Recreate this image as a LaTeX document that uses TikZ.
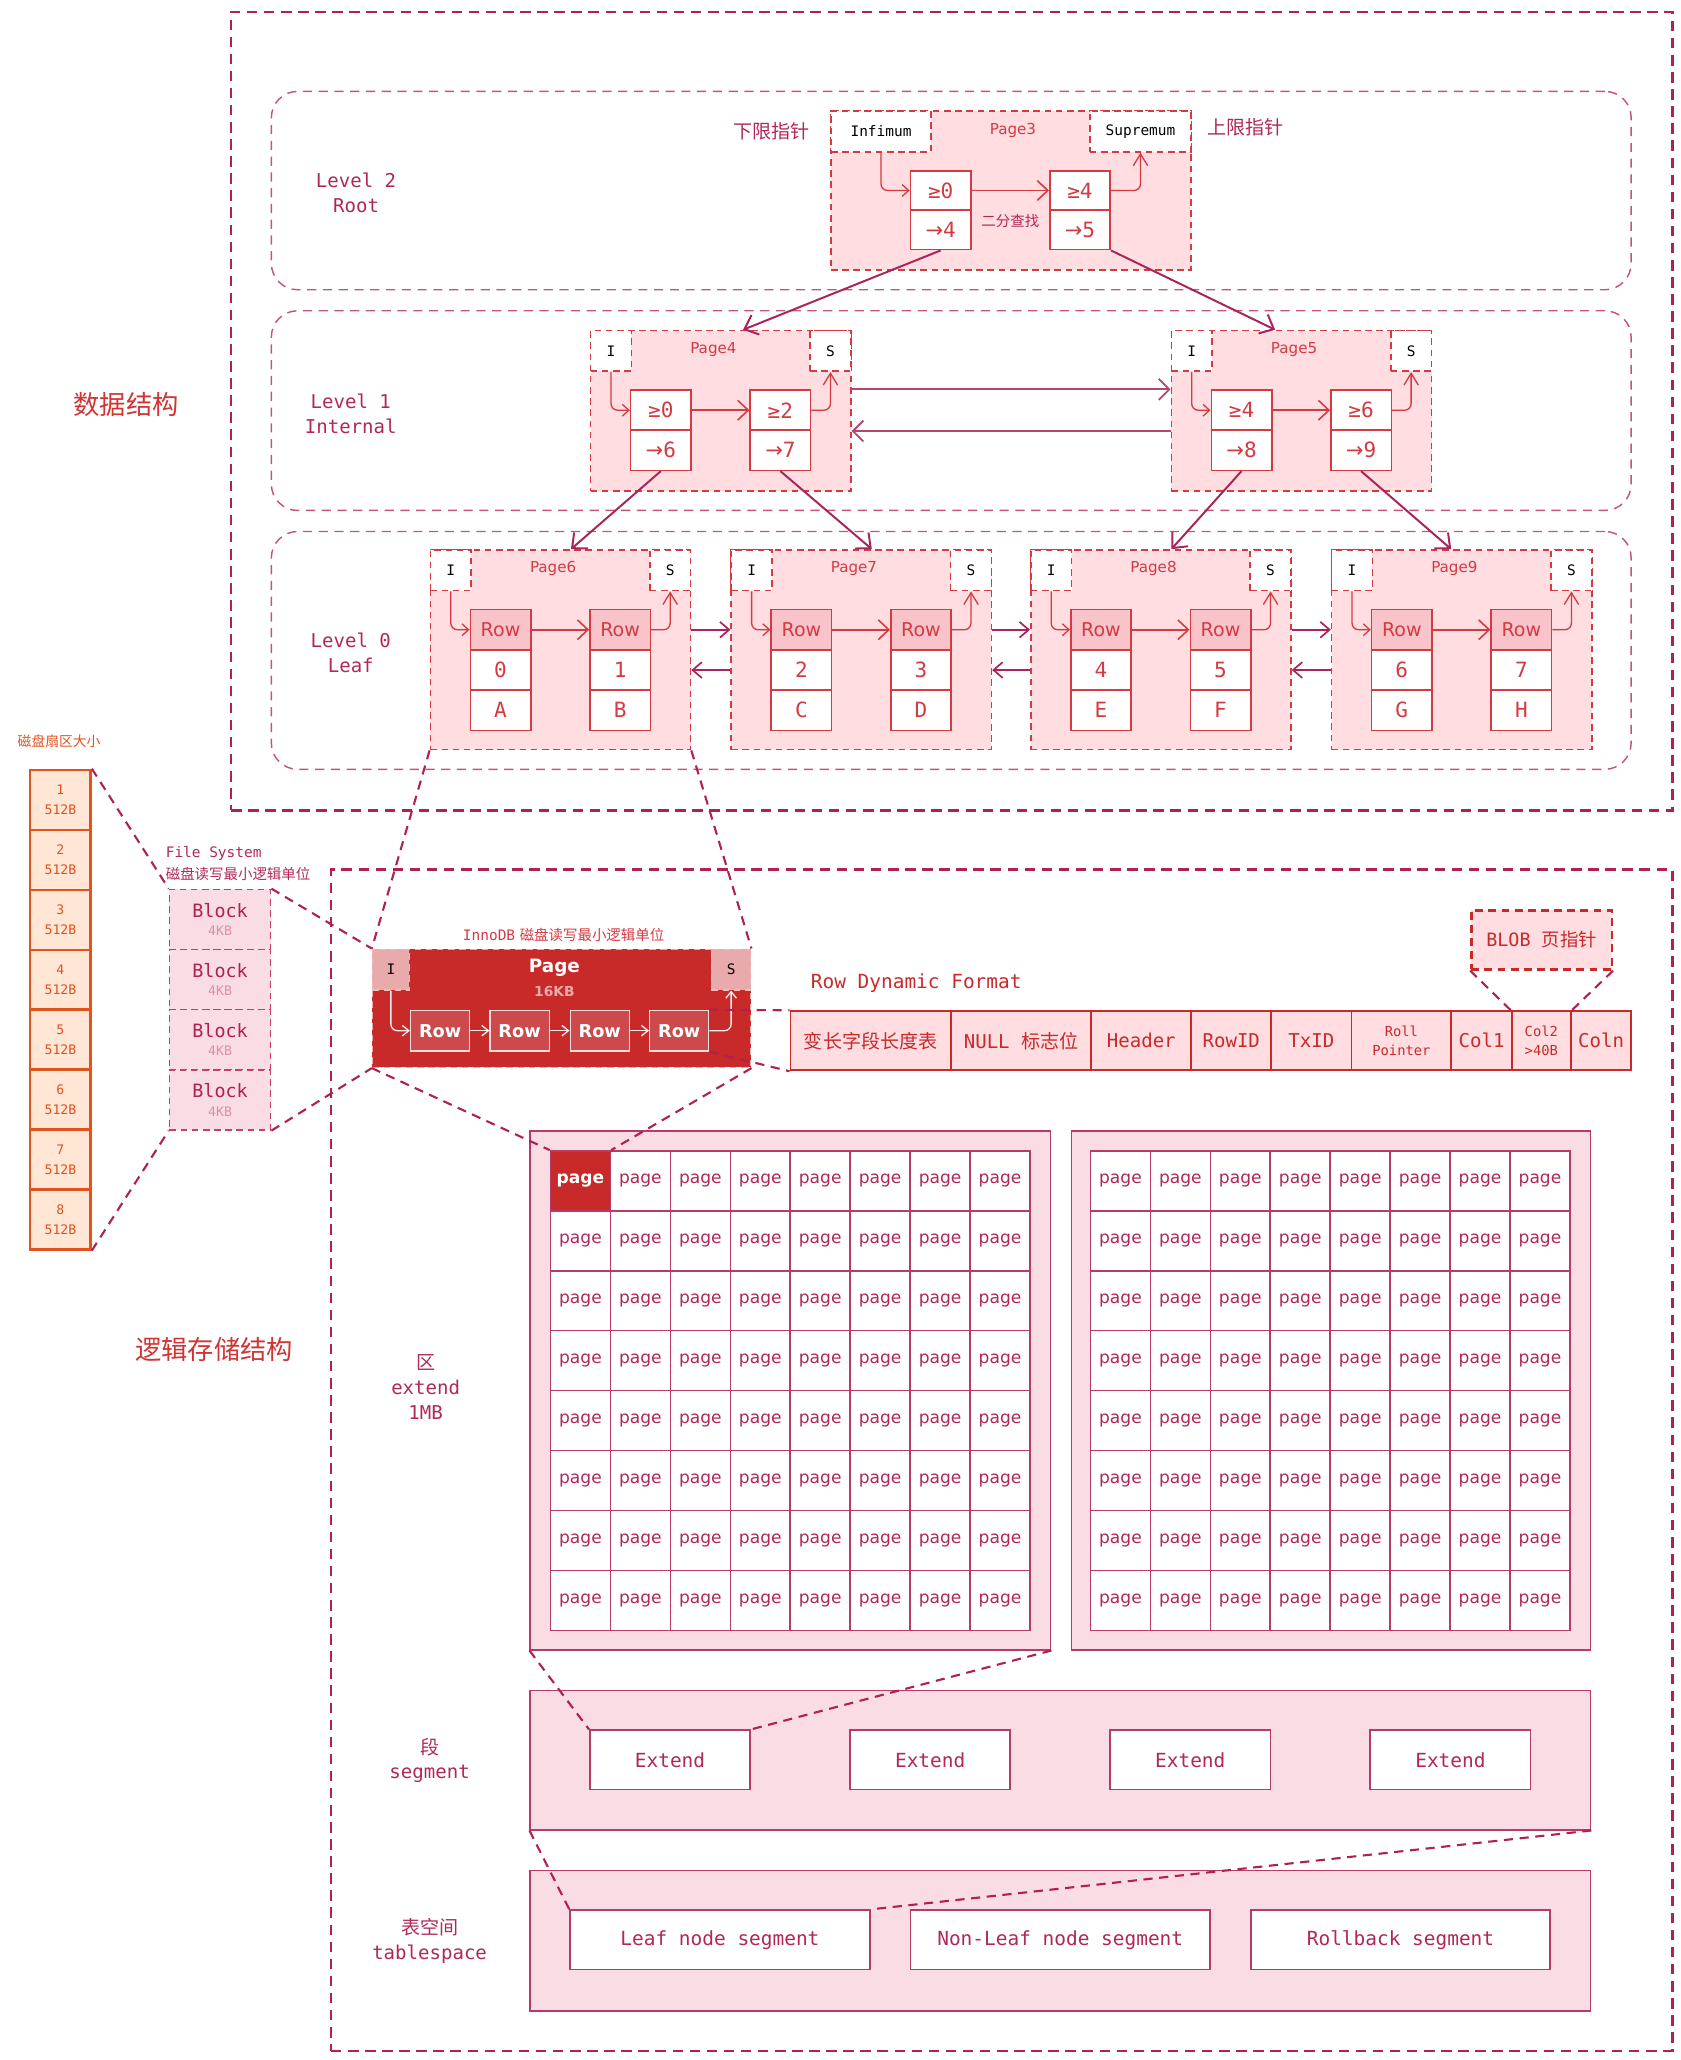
\documentclass[tikz,border=0pt]{standalone}
\usepackage{fontspec}
\setmainfont{DejaVu Sans}
\setmonofont{DejaVu Sans Mono}
\newfontfamily\cjk{Noto Sans CJK SC}
\newfontfamily\arrf{DejaVu Sans}
\usetikzlibrary{arrows.meta,calc}
\definecolor{cdark}{RGB}{176,32,80}
\definecolor{clevel}{RGB}{196,84,120}
\definecolor{cred}{RGB}{212,58,66}
\definecolor{cpagefill}{RGB}{255,221,224}
\definecolor{crowfill}{RGB}{248,196,202}
\definecolor{cextfill}{RGB}{250,220,229}
\definecolor{cextdraw}{RGB}{184,58,104}
\definecolor{ctxt}{RGB}{176,40,90}
\definecolor{corange}{RGB}{224,82,30}
\definecolor{corfill}{RGB}{255,230,213}
\definecolor{cinno}{RGB}{200,42,42}
\definecolor{cinnorow}{RGB}{204,74,76}
\definecolor{cinnois}{RGB}{232,170,170}
\definecolor{carrow}{RGB}{168,36,90}
\definecolor{cbig}{RGB}{208,52,52}
\definecolor{cblkdraw}{RGB}{192,64,112}
\definecolor{cblk4}{RGB}{216,144,168}
\newcommand\fz[2]{\fontsize{#1}{#2}\selectfont}
\newcommand\ar{{\arrf →}}

\newcommand\leafpg[7]{%
\begin{scope}[xshift=#2pt]
\node[pagebox, minimum width=198pt, minimum height=152pt] (#1) at (0,418) {};
\node[isbox] (#1i) at (0,418) {I};
\node[isbox] (#1s) at (167,418) {S};
\node[pagelbl] (#1t) at (94,433) {#3};
\node[rowcell] (#1r1) at (54,479.33) {Row};
\node[valcell] (#1a1) at (54,510) {#4};
\node[valcell] (#1b1) at (54,540.67) {#5};
\node[rowcell] (#1r2) at (145,479.33) {Row};
\node[valcell] (#1a2) at (145,510) {#6};
\node[valcell] (#1b2) at (145,540.67) {#7};
\draw[inarr, rounded corners=5pt] (#1i.south) |- (#1r1.west);
\draw[bigarr] (#1r1.east) -- (#1r2.west);
\draw[inarr2, rounded corners=5pt] (#1r2.east) -| (#1s.south);
\end{scope}}

\newcommand\intpg[7]{%
\begin{scope}[xshift=#2pt]
\node[pagebox, minimum width=198pt, minimum height=122pt] (#1) at (0,251) {};
\node[isbox] (#1i) at (0,251) {I};
\node[isbox] (#1s) at (167,251) {S};
\node[pagelbl] (#1t) at (94,266) {#3};
\node[keycell] (#1k1) at (54,312.25) {#4};
\node[keycell] (#1v1) at (54,342.75) {#5};
\node[keycell] (#1k2) at (145,312.25) {#6};
\node[keycell] (#1v2) at (145,342.75) {#7};
\draw[inarr, rounded corners=5pt] (#1i.south) |- (#1k1.west);
\draw[bigarr] (#1k1.east) -- (#1k2.west);
\draw[inarr2, rounded corners=5pt] (#1k2.east) -| (#1s.south);
\end{scope}}

\begin{document}
\begin{tikzpicture}[x=1pt,y=-1pt,
 outerbox/.style={draw=cdark, dash pattern=on 8pt off 5pt, line width=1.8pt, inner sep=0, anchor=north west},
 levelbox/.style={draw=clevel, dash pattern=on 7pt off 5pt, line width=1.1pt, rounded corners=20pt, inner sep=0, anchor=north west},
 pagebox/.style={draw=cred, fill=cpagefill, dash pattern=on 5pt off 3.5pt, line width=1.2pt, inner sep=0, anchor=north west},
 isbox/.style={draw=cred, fill=white, dash pattern=on 5pt off 3.5pt, line width=1.2pt, inner sep=0, anchor=north west, minimum width=31pt, minimum height=31pt, font=\ttfamily\fz{11}{13}, text=black},
 pagelbl/.style={text=cred, font=\fz{11.5}{13}, inner sep=0},
 keycell/.style={draw=cred, fill=white, line width=1.2pt, inner sep=0, minimum width=46pt, minimum height=30.5pt, text=cred, font=\ttfamily\fz{16}{18}},
 rowcell/.style={keycell, fill=crowfill, font=\fz{14.5}{16}, minimum height=30.67pt},
 valcell/.style={keycell, minimum height=30.67pt},
 inarr/.style={draw=cred, line width=1pt, -{Straight Barb[length=5pt,width=9pt]}},
 inarr2/.style={draw=cred, line width=1pt, -{Straight Barb[length=9pt,width=11pt]}},
 bigarr/.style={draw=cred, line width=1.2pt, -{Straight Barb[length=8pt,width=15pt]}},
 tarr/.style={draw=carrow, line width=1.5pt, -{Straight Barb[length=9pt,width=16pt]}},
 harr/.style={draw=carrow!85, line width=1.4pt, -{Straight Barb[length=8pt,width=16pt]}},
 larr/.style={draw=carrow, line width=1.3pt, -{Straight Barb[length=7pt,width=12pt]}},
 lvl/.style={text=ctxt, font=\ttfamily\fz{14.5}{19}, align=center, inner sep=0},
 big/.style={text=cbig, font=\cjk\fz{20}{24}, inner sep=0},
 note/.style={text=ctxt, font=\cjk\fz{14.5}{16}, inner sep=0},
 conn/.style={draw=cdark, dash pattern=on 7pt off 5pt, line width=1.6pt},
 sector/.style={draw=corange, fill=corfill, line width=1.8pt, minimum width=46pt, minimum height=45.625pt, inner sep=0, align=center, text=corange, font=\ttfamily\fz{10}{15}},
 blk/.style={draw=cblkdraw, fill=cextfill, dash pattern=on 5pt off 3.5pt, line width=1.2pt, minimum width=77pt, minimum height=45.75pt, inner sep=0, align=center, text=cdark, font=\ttfamily\fz{14}{17}},
 innois/.style={draw=cinnois!80!white, fill=cinnois, dash pattern=on 5pt off 3.5pt, line width=1pt, inner sep=0, anchor=north west, minimum height=31pt, text=black, font=\ttfamily\fz{11}{13}},
 innorow/.style={draw=white!85!cinno, fill=cinnorow, line width=1pt, minimum width=45pt, minimum height=31pt, inner sep=0, text=white, font=\bfseries\fz{13.5}{16}},
 warr/.style={draw=white!92!cinno, line width=1pt, -{Straight Barb[length=5pt,width=8pt]}},
 fmt/.style={draw=cinno, fill=cpagefill, line width=1.4pt, minimum height=45pt, inner sep=0, anchor=north west, align=center, text=cinno, font=\ttfamily\fz{14.5}{16}},
 fmts/.style={fmt, font=\ttfamily\fz{10.5}{15}},
 extbox/.style={draw=cextdraw, fill=cextfill, line width=1.3pt, inner sep=0, anchor=north west},
 pgcell/.style={draw=cextdraw, fill=white, line width=1.2pt, minimum size=45.625pt, inner sep=0, text=ctxt, font=\fz{13}{15}},
 pgred/.style={pgcell, fill=cinno, text=white, font=\bfseries\fz{13}{15}},
 segcell/.style={draw=cextdraw, fill=white, line width=1.3pt, minimum height=45pt, inner sep=0, text=ctxt, font=\ttfamily\fz{14.8}{16}}
]
\useasboundingbox (0,0) rectangle (1279,1568);

% ===== top: data structure =====
\node[outerbox, minimum width=1097pt, minimum height=608pt] (TOP) at (175,8) {};
\node[big] (T1) at (96,308) {数据结构};
\node[levelbox, minimum width=1035pt, minimum height=151pt] (L2) at (206,69) {};
\node[levelbox, minimum width=1035pt, minimum height=152pt] (L1) at (206,236) {};
\node[levelbox, minimum width=1035pt, minimum height=181pt] (L0) at (206,404) {};
\node[lvl] (L2t) at (271,147) {Level 2\\Root};
\node[lvl] (L1t) at (267,315) {Level 1\\Internal};
\node[lvl] (L0t) at (267,497) {Level 0\\Leaf};

% Page3
\node[pagebox, minimum width=274pt, minimum height=121pt] (P3) at (632,84) {};
\node[isbox, minimum width=76pt] (P3i) at (632,84) {Infimum};
\node[isbox, minimum width=77pt] (P3s) at (829,84) {Supremum};
\node[pagelbl] (P3t) at (771,99) {Page3};
\node[keycell, minimum height=30pt] (P3k1) at (716,145) {≥0};
\node[keycell, minimum height=30pt] (P3v1) at (716,175) {\ar4};
\node[keycell, minimum height=30pt] (P3k2) at (822,145) {≥4};
\node[keycell, minimum height=30pt] (P3v2) at (822,175) {\ar5};
\node[text=ctxt, font=\cjk\fz{11}{13}, inner sep=0] (BS) at (769,168) {二分查找};
\node[note] (LO) at (587,100) {下限指针};
\node[note] (UP) at (948,97) {上限指针};
\draw[inarr, rounded corners=5pt] (P3i.south) |- (P3k1.west);
\draw[bigarr] (P3k1.east) -- (P3k2.west);
\draw[inarr2, rounded corners=5pt] (P3k2.east) -| (P3s.south);

% Level 1
\intpg{P4}{449}{Page4}{≥0}{\ar6}{≥2}{\ar7}
\intpg{P5}{891}{Page5}{≥4}{\ar8}{≥6}{\ar9}
\draw[harr] (P4.east |- P4k1.north) -- (P5.west |- P4k1.north);
\draw[harr] (P5.west |- P4k1.south) -- (P4.east |- P4k1.south);

% Level 0
\leafpg{P6}{327}{Page6}{0}{A}{1}{B}
\leafpg{P7}{556}{Page7}{2}{C}{3}{D}
\leafpg{P8}{784}{Page8}{4}{E}{5}{F}
\leafpg{P9}{1013}{Page9}{6}{G}{7}{H}
\foreach \a/\b in {P6/P7,P7/P8,P8/P9}{
  \draw[larr] (\a.east |- \a r1.center) -- (\b.west |- \a r1.center);
  \draw[larr] (\b.west |- \a a1.center) -- (\a.east |- \a a1.center);
}

% tree arrows
\draw[tarr] (P3v1.south) -- ([xshift=17pt]P4.north);
\draw[tarr] (P3v2.south east) -- ([xshift=-20pt]P5.north);
\draw[tarr] (P4v1.south) -- ([xshift=8pt]P6.north);
\draw[tarr] (P4v2.south) -- ([xshift=8pt]P7.north);
\draw[tarr] (P5v1.south) -- ([xshift=8pt]P8.north);
\draw[tarr] (P5v2.south) -- ([xshift=-8pt]P9.north);

% ===== bottom: logical storage =====
\node[outerbox, minimum width=1021pt, minimum height=899pt] (BOT) at (251,661) {};
\node[big] (T2) at (163,1027) {逻辑存储结构};

% sectors
\node[text=corange, font=\cjk\fz{10.5}{12}, inner sep=0] (SCt) at (45,564) {磁盘扇区大小};
\foreach \i in {1,...,8}
  \node[sector] (SC\i) at (46,{586+(\i-0.5)*45.625}) {\i\\512B};

% blocks
\node[text=ctxt, font=\ttfamily\fz{11}{13}, inner sep=0, anchor=west] (FS1) at (126,650) {File System};
\node[text=ctxt, font=\cjk\fz{11}{13}, inner sep=0, anchor=west] (FS2) at (126,665) {磁盘读写最小逻辑单位};
\foreach \i in {1,...,4}
  \node[blk] (BK\i) at (167.5,{677+(\i-0.5)*45.75}) {Block\\[-3pt]{\color{cblk4}\fz{10}{12}4KB}};

% InnoDB page
\node[text=cred, font=\fz{11}{13}, inner sep=0] (IPtt) at (429,712) {{\ttfamily InnoDB} {\cjk 磁盘读写最小逻辑单位}};
\node[draw=cinnois, fill=cinno, dash pattern=on 5pt off 3.5pt, line width=1pt, inner sep=0, anchor=north west, minimum width=288pt, minimum height=90pt] (IP) at (283,722) {};
\node[innois, minimum width=28pt] (IPi) at (283,722) {I};
\node[innois, minimum width=30pt] (IPs) at (541,722) {S};
\node[text=white, font=\bfseries\fz{14}{16}, inner sep=0] (IPt) at (422,737) {Page};
\node[text=cinnois, font=\bfseries\fz{10.5}{12}, inner sep=0] (IPk) at (422,755) {16KB};
\foreach \i/\x in {1/335,2/395.5,3/456.5,4/517}
  \node[innorow] (IPr\i) at (\x,784.5) {Row};
\draw[warr, rounded corners=5pt] (IPi.south) |- (IPr1.west);
\foreach \a/\b in {1/2,2/3,3/4}
  \draw[warr] (IPr\a.east) -- (IPr\b.west);
\draw[warr, rounded corners=5pt] (IPr4.east) -| (IPs.south);

% Row dynamic format
\node[text=cinno, font=\ttfamily\fz{14.8}{16}, inner sep=0, anchor=west] (RDF) at (617,748) {Row Dynamic Format};
\node[fmt, minimum width=122pt] (F1) at (601,769) {\cjk 变长字段长度表};
\node[fmt, minimum width=107pt] (F2) at (723,769) {NULL {\cjk 标志位}};
\node[fmt, minimum width=76pt] (F3) at (830,769) {Header};
\node[fmt, minimum width=61pt] (F4) at (906,769) {RowID};
\node[fmt, minimum width=61pt] (F5) at (967,769) {TxID};
\node[fmts, minimum width=76pt] (F6) at (1028,769) {Roll\\Pointer};
\node[fmt, minimum width=46pt] (F7) at (1104,769) {Col1};
\node[fmts, minimum width=45pt] (F8) at (1150,769) {Col2\\>40B};
\node[fmt, minimum width=46pt] (F9) at (1195,769) {Coln};
\node[draw=cinno, fill=cpagefill, dash pattern=on 6pt off 4pt, line width=1.8pt, inner sep=0, anchor=north west, minimum width=107pt, minimum height=45pt, text=cinno, font=\ttfamily\fz{14}{16}] (BLOB) at (1119,692) {BLOB {\cjk 页指针}};

% extents
\node[extbox, minimum width=396pt, minimum height=395pt] (EL) at (403,860) {};
\node[extbox, minimum width=395pt, minimum height=395pt] (ER) at (815,860) {};
\foreach \g/\ox in {L/419,R/830}
 \foreach \r in {1,...,8}
  \foreach \c in {1,...,8}{
   \def\st{pgcell}
   \ifnum\r=1 \ifnum\c=1 \if\g L\def\st{pgred}\fi\fi\fi
   \node[\st] (G\g-\r-\c) at ({\ox+(\c-0.5)*45.625},{876+(\r-0.5)*45.625}) {page};
  }
\node[lvl] (EXt) at (324,1056) {{\cjk 区}\\extend\\1MB};

% segment
\node[extbox, minimum width=807pt, minimum height=106pt] (SG) at (403,1286) {};
\foreach \i/\x in {1/510,2/708,3/906,4/1104}
  \node[segcell, minimum width=122pt] (E\i) at (\x,1339.5) {Extend};
\node[lvl] (SGt) at (327,1340) {{\cjk 段}\\segment};

% tablespace
\node[extbox, minimum width=807pt, minimum height=107pt] (TS) at (403,1423) {};
\node[segcell, minimum width=228pt] (TS1) at (548,1476.5) {Leaf node segment};
\node[segcell, minimum width=228pt] (TS2) at (807,1476.5) {Non-Leaf node segment};
\node[segcell, minimum width=228pt] (TS3) at (1066,1476.5) {Rollback segment};
\node[lvl] (TSt) at (327,1477) {{\cjk 表空间}\\tablespace};

% dashed zoom connectors
\draw[conn] (SC1.north east) -- (BK1.north west);
\draw[conn] (SC8.south east) -- (BK4.south west);
\draw[conn] (BK1.north east) -- (IP.north west);
\draw[conn] (BK4.south east) -- (IP.south west);
\draw[conn] (P6.south west) -- (IP.north west);
\draw[conn] (P6.south east) -- (IP.north east);
\draw[conn] (IPr4.north east) -- (F1.north west);
\draw[conn] (IPr4.south east) -- (F1.south west);
\draw[conn] (BLOB.south west) -- (F8.north west);
\draw[conn] (BLOB.south east) -- (F8.north east);
\draw[conn] (IP.south west) -- (GL-1-1.north west);
\draw[conn] (IP.south east) -- (GL-1-1.north east);
\draw[conn] (EL.south west) -- (E1.north west);
\draw[conn] (EL.south east) -- (E1.north east);
\draw[conn] (SG.south west) -- (TS1.north west);
\draw[conn] (SG.south east) -- (TS1.north east);
\end{tikzpicture}
\end{document}
